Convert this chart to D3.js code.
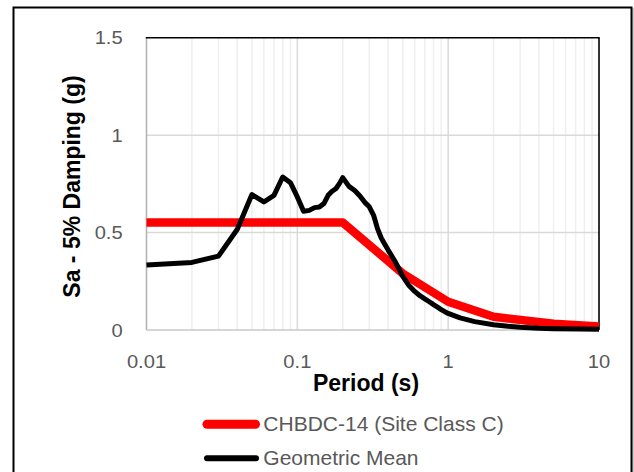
<!DOCTYPE html>
<html>
<head>
<meta charset="utf-8">
<script src="https://cdn.jsdelivr.net/npm/d3@7/dist/d3.min.js"></script>
<style>
  html, body { margin: 0; padding: 0; background: #fff; }
  svg { display: block; }
</style>
</head>
<body>
<svg id="chart" width="634" height="472"></svg>
<script>
// Response spectra: design spectrum and geometric mean of records
const codePeriods = [0.01, 0.2, 0.5, 1, 2, 5, 10];
const codeSa      = [0.552, 0.552, 0.29, 0.145, 0.068, 0.032, 0.018];

const gmPeriods = [0.01, 0.02, 0.03, 0.04, 0.05, 0.06, 0.07, 0.08, 0.09, 0.1,
                   0.11, 0.12, 0.13, 0.14, 0.15, 0.16, 0.17, 0.18, 0.19, 0.2,
                   0.22, 0.24, 0.26, 0.28, 0.3, 0.32, 0.34, 0.36, 0.38, 0.4,
                   0.45, 0.5, 0.55, 0.6, 0.65, 0.7, 0.75, 0.8, 0.85, 0.9, 0.95,
                   1, 1.2, 1.5, 2, 2.5, 3, 4, 5, 7.5, 10];
const gmSa      = [0.333, 0.347, 0.379, 0.517, 0.695, 0.657, 0.691, 0.785, 0.756, 0.683,
                   0.609, 0.614, 0.628, 0.631, 0.649, 0.691, 0.712, 0.725, 0.751, 0.782,
                   0.737, 0.716, 0.688, 0.655, 0.632, 0.59, 0.52, 0.472, 0.44, 0.41,
                   0.345, 0.275, 0.228, 0.198, 0.176, 0.16, 0.145, 0.13, 0.117, 0.105, 0.094,
                   0.085, 0.062, 0.043, 0.027, 0.019, 0.014, 0.009, 0.007, 0.005, 0.004];

const xTicks = [0.01, 0.1, 1, 10];
const xTickLabels = ["0.01", "0.1", "1", "10"];
const yTicks = [0, 0.5, 1, 1.5];
const yTickLabels = ["0", "0.5", "1", "1.5"];

const seriesNames = ["CHBDC-14 (Site Class C)", "Geometric Mean"];

const svg = d3.select("#chart");
const plotL = 146.5, plotR = 599, plotT = 37.7, plotB = 330;

const x = d3.scaleLog().domain([0.01, 10]).range([plotL, plotR]);
const y = d3.scaleLinear().domain([0, 1.5]).range([plotB, plotT]);

// outer chart frame
svg.append("line").attr("x1", 633).attr("x2", 633).attr("y1", 8).attr("y2", 480)
  .attr("stroke", "#a0a0a0").attr("stroke-width", 1);
svg.append("rect").attr("x", 13.5).attr("y", 7.5).attr("width", 618).attr("height", 480)
  .attr("fill", "none").attr("stroke", "#000").attr("stroke-width", 2);

// minor vertical gridlines
const minor = [];
for (let d = 0.01; d < 10; d *= 10) {
  for (let k = 2; k <= 9; k++) minor.push(+(d * k).toPrecision(3));
}
svg.append("g").selectAll("line").data(minor).join("line")
  .attr("x1", d => x(d)).attr("x2", d => x(d))
  .attr("y1", plotT).attr("y2", plotB)
  .attr("stroke", "#efefef").attr("stroke-width", 1.5);

// major vertical gridlines
svg.append("g").selectAll("line").data(xTicks.slice(1, -1)).join("line")
  .attr("x1", d => x(d)).attr("x2", d => x(d))
  .attr("y1", plotT).attr("y2", plotB)
  .attr("stroke", "#d9d9d9").attr("stroke-width", 1.5);

// horizontal gridlines
svg.append("g").selectAll("line").data(yTicks.slice(1, -1)).join("line")
  .attr("x1", plotL).attr("x2", plotR)
  .attr("y1", d => y(d)).attr("y2", d => y(d))
  .attr("stroke", "#d9d9d9").attr("stroke-width", 1.5);

// plot area border: grey axes on left/bottom, black on top/right
svg.append("line").attr("x1", plotL).attr("x2", plotL).attr("y1", plotT).attr("y2", plotB)
  .attr("stroke", "#b0b0b0").attr("stroke-width", 1.5);
svg.append("line").attr("x1", plotL).attr("x2", plotR).attr("y1", plotB).attr("y2", plotB)
  .attr("stroke", "#c8c8c8").attr("stroke-width", 1.5);
svg.append("line").attr("x1", plotL - 0.7).attr("x2", plotR + 0.7).attr("y1", plotT).attr("y2", plotT)
  .attr("stroke", "#000").attr("stroke-width", 1.6);
svg.append("line").attr("x1", plotR).attr("x2", plotR).attr("y1", plotT).attr("y2", plotB)
  .attr("stroke", "#000").attr("stroke-width", 1.6);

// tick labels
const tickFont = "'Liberation Sans', Arial, sans-serif";
svg.append("g").selectAll("text").data(xTicks).join("text")
  .attr("transform", d => `translate(${x(d)},367.5) scale(1.12,1)`)
  .attr("text-anchor", "middle")
  .style("font-family", tickFont).style("font-size", "18px").attr("fill", "#595959")
  .text((d, i) => xTickLabels[i]);
svg.append("g").selectAll("text").data(yTicks).join("text")
  .attr("transform", d => `translate(122.7,${y(d) + 6.5}) scale(1.12,1)`)
  .attr("text-anchor", "end")
  .style("font-family", tickFont).style("font-size", "18px").attr("fill", "#595959")
  .text((d, i) => yTickLabels[i]);

// axis titles
svg.append("text")
  .attr("transform", "translate(366,391)")
  .attr("text-anchor", "middle")
  .style("font-family", tickFont).style("font-size", "23px").style("font-weight", "bold")
  .attr("fill", "#000").text("Period (s)");
svg.append("text")
  .attr("transform", "translate(79.5,186.5) rotate(-90)")
  .attr("text-anchor", "middle")
  .style("font-family", tickFont).style("font-size", "23px").style("font-weight", "bold")
  .attr("fill", "#000").text("Sa - 5% Damping (g)");

// series
const line = d3.line().x(d => x(d[0])).y(d => y(d[1]));
const codeData = d3.zip(codePeriods, codeSa);
const gmData = d3.zip(gmPeriods, gmSa);

svg.append("path").datum(codeData).attr("d", line)
  .attr("fill", "none").attr("stroke", "#ff0000").attr("stroke-width", 8.5)
  .attr("stroke-linejoin", "round");
svg.append("path").datum(gmData).attr("d", line)
  .attr("fill", "none").attr("stroke", "#000").attr("stroke-width", 5)
  .attr("stroke-linejoin", "round");

// legend
const legend = [
  { name: seriesNames[0], color: "#ff0000", width: 9, x1: 207, x2: 255.5, y: 424.3, ty: 430.7 },
  { name: seriesNames[1], color: "#000", width: 6, x1: 207, x2: 256, y: 458.3, ty: 465 }
];
const lg = svg.append("g");
lg.selectAll("line").data(legend).join("line")
  .attr("x1", d => d.x1).attr("x2", d => d.x2).attr("y1", d => d.y).attr("y2", d => d.y)
  .attr("stroke", d => d.color).attr("stroke-width", d => d.width).attr("stroke-linecap", "round");
lg.selectAll("text").data(legend).join("text")
  .attr("x", 263.3).attr("y", d => d.ty)
  .style("font-family", tickFont).style("font-size", "21px").attr("fill", "#595959")
  .text(d => d.name);
</script>
</body>
</html>
